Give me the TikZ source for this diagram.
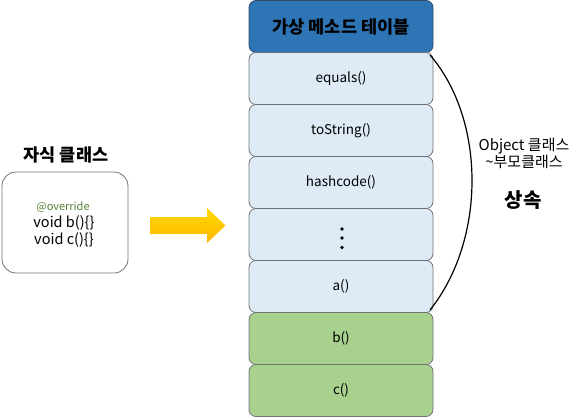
\documentclass[tikz,border=0pt]{standalone}
\usepackage{fontspec}
\setmainfont{Noto Sans CJK KR}
\usetikzlibrary{calc}
\definecolor{hdrblue}{HTML}{2E75B6}
\definecolor{hdrborder}{HTML}{2F4A6A}
\definecolor{lightblue}{HTML}{DEEBF7}
\definecolor{rowborder}{HTML}{6F7378}
\definecolor{lightgreen}{HTML}{A9D18E}
\definecolor{ovgreen}{HTML}{548235}
\definecolor{arrowyel}{HTML}{FFC000}
\tikzset{
  row/.style={draw=rowborder, line width=0.8pt, rounded corners=7pt, minimum width=184pt, minimum height=52pt, inner sep=0pt, font=\fontsize{13.5}{15}\selectfont},
  hdr/.style={row, fill=hdrblue, draw=hdrborder, font=\bfseries\fontsize{17.5}{19}\selectfont},
  inh/.style={row, fill=lightblue},
  own/.style={row, fill=lightgreen},
}
\begin{document}
\begin{tikzpicture}[x=1pt,y=-1pt]
\useasboundingbox (0,0) rectangle (580,417);
\node[hdr] (h) at (341,26.5) {가상 메소드 테이블};
\node[inh] (r1) at (341,78.5) {equals()};
\node[inh] (r2) at (341,130.5) {toString()};
\node[inh] (r3) at (341,182.5) {hashcode()};
\node[inh] (r4) at (341,234.5) {};
\node[inh] (r5) at (341,286.5) {a()};
\node[own] (r6) at (341,338.5) {b()};
\node[own] (r7) at (341,390.5) {c()};
\foreach \dy in {-5.5,3.5,13}
  \fill ($(r4.center)+(1,\dy)$) circle (1.9pt);
% left box
\node[font=\bfseries\fontsize{17.5}{19}\selectfont] (title) at (66,155) {자식 클래스};
\node[draw=rowborder, line width=0.8pt, rounded corners=14pt, minimum width=126pt, minimum height=101pt, align=center, inner sep=0pt] (child) at (65,222.5) {};
\node[font=\fontsize{11}{12}\selectfont, text=ovgreen] (ov) at (63,207) {@override};
\node[font=\fontsize{14.5}{17}\selectfont, align=center] (code) at (64,231.5) {void b()\{\}\\void c()\{\}};
% arrow
\shade[top color=arrowyel!60!yellow, bottom color=arrowyel!85!orange]
  (150,217) -- (207,217) -- (207,208) -- (225.5,225.5) -- (207,243) -- (207,234) -- (150,234) -- cycle;
% brace curve
\coordinate (ctop) at (430,55);
\coordinate (cbot) at (430,310);
\draw[line width=1.2pt] (ctop) .. controls (486,120) and (486,240) .. (cbot);
\node[font=\fontsize{15}{17}\selectfont, align=center] (obj) at (524,153.5) {Object 클래스\\\textasciitilde 부모클래스};
\node[font=\bfseries\fontsize{20}{22}\selectfont] (inhe) at (523,200) {상속};
\end{tikzpicture}
\end{document}
